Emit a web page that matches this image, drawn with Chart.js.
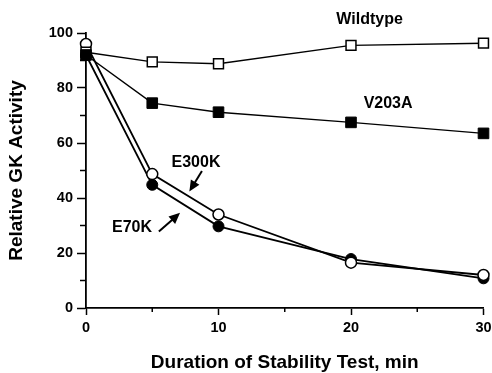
<!DOCTYPE html>
<html>
<head>
<meta charset="utf-8">
<script src="https://cdn.jsdelivr.net/npm/chart.js@4.4.0/dist/chart.umd.min.js"></script>
<style>
  html, body { margin: 0; padding: 0; background: #fff; }
  #wrap { width: 492px; height: 373px; }
</style>
</head>
<body>
<div id="wrap"><canvas id="gkChart"></canvas></div>
<script>
// minutes of the stability test
var times = [0, 5, 10, 20, 30];

// relative GK activity (%) per enzyme
var wildtype = [93, 89.5, 88.8, 95.5, 96.3];
var v203a = [92, 74.5, 71.2, 67.5, 63.5];
var e300k = [96, 48.7, 34, 16.5, 12];
var e70k = [92, 44.8, 29.7, 17.8, 10.8];

var seriesNames = ["Wildtype", "V203A", "E300K", "E70K"];

function toPoints(values) {
  return times.map(function (t, i) {
    return { x: t, y: values[i] };
  });
}

var ctx = document.getElementById("gkChart").getContext("2d");

// minor ticks, in-plot labels and arrows
var extras = {
  id: "extras",
  afterDraw: function (chart) {
    var c = chart.ctx;
    var xs = chart.scales.x;
    var ys = chart.scales.y;
    var px = function (v) { return xs.getPixelForValue(v); };
    var py = function (v) { return ys.getPixelForValue(v); };

    c.save();
    c.strokeStyle = "#000";
    c.lineWidth = 1.5;
    [10, 30, 50, 70, 90].forEach(function (v) {
      c.beginPath();
      c.moveTo(ys.right, py(v));
      c.lineTo(ys.right - 6, py(v));
      c.stroke();
    });
    [5, 15, 25].forEach(function (v) {
      c.beginPath();
      c.moveTo(px(v), xs.top);
      c.lineTo(px(v), xs.top + 4);
      c.stroke();
    });

    c.fillStyle = "#000";
    c.font = "bold 16px 'Liberation Sans', Arial, sans-serif";
    c.textAlign = "center";
    c.textBaseline = "middle";
    c.fillText(seriesNames[0], px(21.4), py(104.7));
    c.fillText(seriesNames[1], px(22.8), py(74.5));
    c.fillText(seriesNames[2], px(8.3), py(52.8));
    c.fillText(seriesNames[3], px(3.47), py(29.2));

    function arrow(x1, y1, x2, y2) {
      var a = Math.atan2(y2 - y1, x2 - x1);
      var len = 11, half = 5;
      c.lineWidth = 2;
      c.beginPath();
      c.moveTo(x1, y1);
      c.lineTo(x2 - Math.cos(a) * len * 0.8, y2 - Math.sin(a) * len * 0.8);
      c.stroke();
      c.beginPath();
      c.moveTo(x2, y2);
      c.lineTo(x2 - Math.cos(a) * len - Math.sin(a) * half, y2 - Math.sin(a) * len + Math.cos(a) * half);
      c.lineTo(x2 - Math.cos(a) * len + Math.sin(a) * half, y2 - Math.sin(a) * len - Math.cos(a) * half);
      c.closePath();
      c.fill();
    }
    arrow(px(8.75), py(49.8), px(7.8), py(42.4));
    arrow(px(5.5), py(27.8), px(7.1), py(34.6));
    c.restore();
  }
};

var tickFont = { family: "'Liberation Sans', Arial, sans-serif", size: 14.5, weight: "bold" };
var titleFont = { family: "'Liberation Sans', Arial, sans-serif", size: 19, weight: "bold", lineHeight: 1.05 };

var config = {
  type: "line",
  data: {
    datasets: [
      {
        label: seriesNames[0],
        data: toPoints(wildtype),
        borderColor: "#000",
        borderWidth: 1.5,
        pointStyle: "rect",
        pointRadius: 7,
        pointBackgroundColor: "#fff",
        pointBorderColor: "#000",
        pointBorderWidth: 1.5,
        clip: false,
        order: 2
      },
      {
        label: seriesNames[1],
        data: toPoints(v203a),
        borderColor: "#000",
        borderWidth: 1.5,
        pointStyle: "rect",
        pointRadius: 7.5,
        pointBackgroundColor: "#000",
        pointBorderColor: "#000",
        pointBorderWidth: 1,
        clip: false,
        order: 1
      },
      {
        label: seriesNames[2],
        data: toPoints(e300k),
        borderColor: "#000",
        borderWidth: 1.8,
        pointStyle: "circle",
        pointRadius: 5.5,
        pointBackgroundColor: "#fff",
        pointBorderColor: "#000",
        pointBorderWidth: 1.5,
        clip: false,
        order: 3
      },
      {
        label: seriesNames[3],
        data: toPoints(e70k),
        borderColor: "#000",
        borderWidth: 1.8,
        pointStyle: "circle",
        pointRadius: 5.5,
        pointBackgroundColor: "#000",
        pointBorderColor: "#000",
        pointBorderWidth: 1,
        clip: false,
        order: 4
      }
    ]
  },
  options: {
    responsive: true,
    maintainAspectRatio: false,
    animation: false,
    layout: { padding: { top: 33, right: 8, bottom: 0, left: 0 } },
    plugins: {
      legend: { display: false },
      tooltip: { enabled: false }
    },
    scales: {
      x: {
        type: "linear",
        min: 0,
        max: 30,
        border: { display: true, color: "#000", width: 1.8 },
        grid: { drawOnChartArea: false, tickLength: 7, tickColor: "#000", tickWidth: 1.5 },
        ticks: { stepSize: 10, color: "#000", font: tickFont, padding: 4, maxRotation: 0 },
        title: {
          display: true,
          text: "Duration of Stability Test, min",
          color: "#000",
          font: titleFont,
          padding: { top: 0, bottom: 0 }
        },
        afterFit: function (scale) {
          scale.height = 65;
          scale.paddingLeft = 0;
          scale.paddingRight = 0;
        }
      },
      y: {
        min: 0,
        max: 100,
        border: { display: true, color: "#000", width: 1.8 },
        grid: { drawOnChartArea: false, tickLength: 9, tickColor: "#000", tickWidth: 1.5 },
        ticks: { stepSize: 20, color: "#000", font: tickFont, padding: 4 },
        title: {
          display: true,
          text: "Relative GK Activity",
          color: "#000",
          font: titleFont,
          padding: { top: 7, bottom: 0 }
        },
        afterFit: function (scale) {
          scale.width = 86;
        }
      }
    }
  },
  plugins: [extras]
};

var myChart = new Chart(ctx, config);
</script>
</body>
</html>
